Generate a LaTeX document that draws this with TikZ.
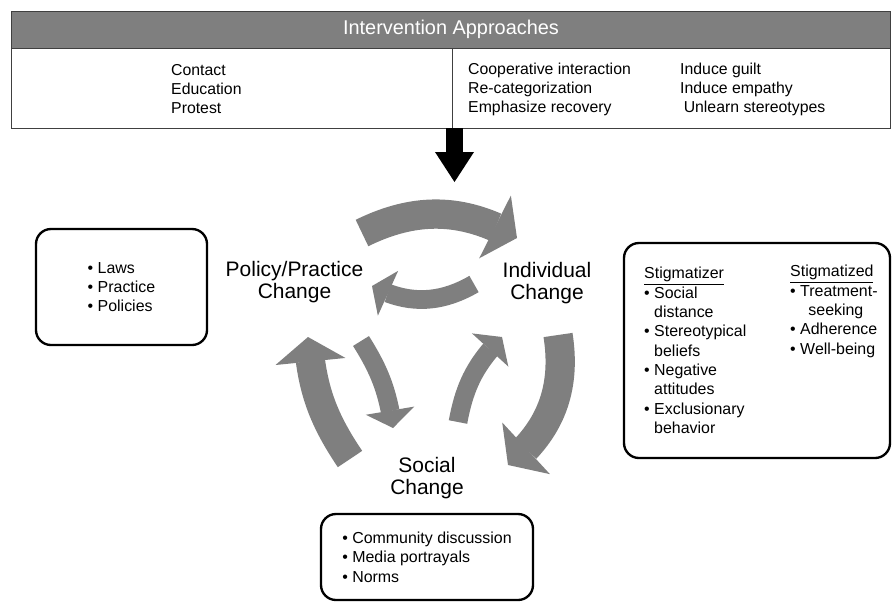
\documentclass[tikz,border=0pt]{standalone}
\usepackage{fontspec}
\setmainfont{Liberation Sans}
\usepackage{tikz}
\usetikzlibrary{arrows.meta}
\usetikzlibrary{bending}

\definecolor{cyclegray}{HTML}{7F7F7F}
\definecolor{framegray}{HTML}{404040}

\begin{document}
\begin{tikzpicture}[x=0.03cm, y=0.03cm,
    labeltext/.style={align=center, inner sep=0pt, font=\fontsize{17.9pt}{18.8pt}\selectfont},
    tabletext/.style={align=left, anchor=west, inner sep=0pt, font=\fontsize{13.5pt}{16.2pt}\selectfont},
    boxtext/.style={align=left, inner sep=0pt, font=\fontsize{13.6pt}{16.5pt}\selectfont},
    roundbox/.style={draw, line width=2pt, rounded corners=0.45cm},
    tableline/.style={draw=framegray, line width=0.8pt},
    bigcycle/.style={cyclegray, line width=25pt, -{Triangle[length=21pt, width=60pt, line width=0pt]}},
    smallcycle/.style={cyclegray, line width=16pt, -{Triangle[length=15pt, width=42pt, line width=0pt]}}]
    \useasboundingbox (0,0) rectangle (893,-602);

    % table of approaches
    \fill[cyclegray] (11,-11) rectangle (890,-48);
    \node[font=\fontsize{17pt}{20pt}\selectfont, text=white, inner sep=0pt] (approaches) at (451,-29.5) {Intervention Approaches};
    \draw[tableline] (11,-11) rectangle (890,-128);
    \draw[tableline] (11,-48) -- (890,-48);
    \draw[tableline] (452,-48) -- (452,-128);
    \node[tabletext] (basic) at (171,-89) {Contact\\Education\\Protest};
    \node[tabletext] (strategies) at (468,-89) {Cooperative interaction\\Re-categorization\\Emphasize recovery};
    \node[tabletext] (motives) at (680,-89) {Induce guilt\\Induce empathy\\\hspace*{3pt}Unlearn stereotypes};

    \coordinate (tablebottom) at (454.5,-128);
    \coordinate (cycletop) at (454.5,-182);
    \draw[line width=14.5pt, -{Triangle[length=25.6pt, width=33.3pt, line width=0pt]}] (tablebottom) -- (cycletop);

    % the three kinds of change
    \node[labeltext] (policy) at (294.5,-282.5) {Policy/Practice\\Change};
    \node[labeltext] (individual) at (547,-283) {Individual\\Change};
    \node[labeltext] (social) at (427,-478.5) {Social\\Change};

    % cycle arrows
    \coordinate (polind-a) at (362,-233);
    \coordinate (polind-b) at (517,-238);
    \coordinate (indpol-a) at (474,-284);
    \coordinate (indpol-b) at (372,-286);
    \coordinate (socpol-a) at (350,-459);
    \coordinate (socpol-b) at (308,-337);
    \coordinate (polsoc-a) at (361,-341);
    \coordinate (polsoc-b) at (393,-428);
    \coordinate (socind-a) at (458,-422);
    \coordinate (socind-b) at (502,-337);
    \coordinate (indsoc-a) at (558,-335);
    \coordinate (indsoc-b) at (508,-465);
    \draw[bigcycle] (polind-a) to[bend left=28] (polind-b);
    \draw[smallcycle] (indpol-a) to[bend left=29] (indpol-b);
    \draw[bigcycle] (socpol-a) to[bend left=15] (socpol-b);
    \draw[smallcycle] (polsoc-a) to[bend left=12] (polsoc-b);
    \draw[smallcycle] (socind-a) to[bend left=17] (socind-b);
    \draw[bigcycle] (indsoc-a) to[bend left=30] (indsoc-b);

    % boxes of examples
    \node[roundbox, boxtext, minimum width=5.13cm, minimum height=3.48cm] (laws) at (121.5,-287) {• Laws\\• Practice\\• Policies};
    \node[roundbox, minimum width=7.98cm, minimum height=6.45cm] (stigmabox) at (757,-350.5) {};
    \node[boxtext, anchor=west] (stigmatizer) at (644,-350.5) {\underline{Stigmatizer}\\• Social\\\hphantom{• }distance\\• Stereotypical\\\hphantom{• }beliefs\\• Negative\\\hphantom{• }attitudes\\• Exclusionary\\\hphantom{• }behavior};
    \node[boxtext, anchor=west] (stigmatized) at (790,-311.5) {\underline{Stigmatized}\\• Treatment-\\\hphantom{• }\hspace*{7pt}seeking\\• Adherence\\• Well-being};
    \node[roundbox, boxtext, minimum width=6.36cm, minimum height=2.58cm] (norms) at (427,-557) {• Community discussion\\• Media portrayals\\• Norms};
\end{tikzpicture}
\end{document}
